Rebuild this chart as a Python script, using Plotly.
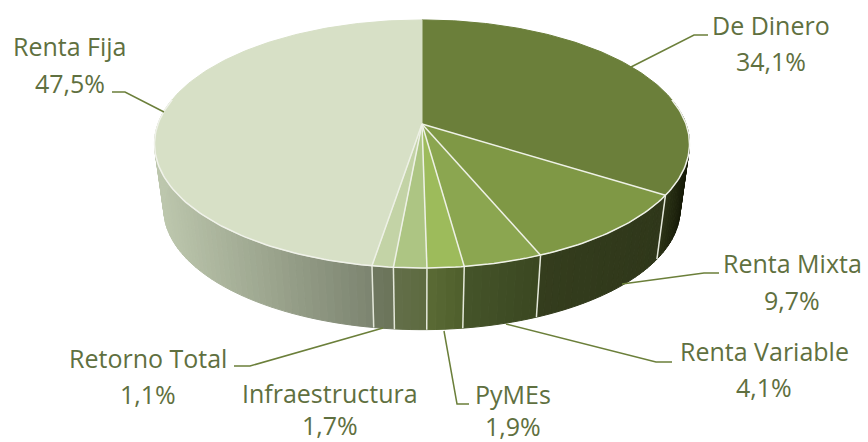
import math
import plotly.graph_objects as go

categories = ["De Dinero", "Renta Mixta", "Renta Variable", "PyMEs", "Infraestructura", "Retorno Total", "Renta Fija"]
values = [34.1, 9.7, 4.1, 1.9, 1.7, 1.1, 47.5]

top_colors = ["#6b7f3a", "#7f9845", "#8ba650", "#9dbb5b", "#adc583", "#c3d3a6", "#d7e0c6"]
side_left = ["#2b3316", "#343d1d", "#45542a", "#5a6a35", "#636f49", "#6f7860", "#b8c2a9"]
side_right = ["#252c12", "#2f371a", "#3a4720", "#4f5f2c", "#5d6a40", "#6b7459", "#7c8470"]

label_pos = {
    "De Dinero": (771, 25, 61), "Renta Mixta": (792, 263, 300), "Renta Variable": (764, 351, 387),
    "PyMEs": (513, 394, 426), "Infraestructura": (330, 393, 425), "Retorno Total": (148, 358, 394),
    "Renta Fija": (70, 46, 83),
}
leaders = {
    "De Dinero": [(708, 35), (694, 35), (631, 67)],
    "Renta Mixta": [(719, 273), (704, 273), (622, 284)],
    "Renta Variable": [(672, 362), (656, 362), (506, 324)],
    "PyMEs": [(469, 404), (457, 404), (444, 331)],
    "Retorno Total": [(234, 366), (250, 366), (383, 328)],
    "Renta Fija": [(112, 92), (125, 92), (164, 112)],
}

CX, CY, R, Q, K = 422, 124, 264, 120.8, 0.161
CY2, R2, Q2 = 190, R * 0.965, Q * 0.97
FONT = "Open Sans, sans-serif"
TEXT = "#5f7040"
LEADER = "#6b7f3a"


def top(a):
    u, v = math.sin(a), -math.cos(a)
    w = 1 - K * v
    return CX + R * u / w, CY + Q * v / w


def bottom(a):
    u, v = math.sin(a), -math.cos(a)
    w = 1 - K * v
    return CX + R2 * u / w, CY2 + Q2 * v / w


def mix(c1, c2, t):
    a = [int(c1[i:i + 2], 16) for i in (1, 3, 5)]
    b = [int(c2[i:i + 2], 16) for i in (1, 3, 5)]
    return "rgb(%d,%d,%d)" % tuple(round(p + (q - p) * t) for p, q in zip(a, b))


def poly(fig, pts, fill=None, line=None, width=1):
    xs = [p[0] for p in pts]
    ys = [p[1] for p in pts]
    fig.add_trace(go.Scatter(
        x=xs, y=ys, mode="lines", fill="toself" if fill else "none", fillcolor=fill,
        line=dict(color=line or fill, width=width), hoverinfo="skip", showlegend=False))


fig = go.Figure()
total = sum(values)
bounds = [0]
for val in values:
    bounds.append(bounds[-1] + val / total * 2 * math.pi)

# side wall
for i in range(len(values)):
    a0, a1 = bounds[i], bounds[i + 1]
    lo, hi = max(a0, math.radians(78)), min(a1, math.radians(282))
    if hi <= lo:
        continue
    n = max(1, int((hi - lo) / math.radians(1.5)))
    xl, xr = top(hi)[0], top(lo)[0]
    for j in range(n):
        s, e = lo + (hi - lo) * j / n, lo + (hi - lo) * (j + 1) / n
        xm = (top(s)[0] + top(e)[0]) / 2
        color = mix(side_left[i], side_right[i], (xm - xl) / max(xr - xl, 1))
        poly(fig, [top(s), top(e), bottom(e), bottom(s), top(s)], fill=color)

# slice separators on the side
for b in bounds[1:-1]:
    if math.radians(78) < b < math.radians(282):
        poly(fig, [top(b), bottom(b)], line="#e4e8da", width=1.5)

# top face
for i in range(len(values)):
    a0, a1 = bounds[i], bounds[i + 1]
    n = max(2, int((a1 - a0) / math.radians(1)))
    pts = [(CX, CY)] + [top(a0 + (a1 - a0) * j / n) for j in range(n + 1)] + [(CX, CY)]
    poly(fig, pts, fill=top_colors[i])

# radial separators
for b in bounds[1:-1]:
    poly(fig, [(CX, CY), top(b)], line="#eef1e6", width=1.5)

# white front rim
n = 200
rim = [top(math.radians(78) + math.radians(204) * j / n) for j in range(n + 1)]
poly(fig, rim, line="#f0f2ea", width=1.5)

# leader lines
for name, pts in leaders.items():
    poly(fig, pts, line=LEADER, width=1.5)

# labels
for name, val in zip(categories, values):
    x, y1, y2 = label_pos[name]
    pct = f"{val:.1f}".replace(".", ",") + "%"
    for txt, y in ((name, y1), (pct, y2)):
        fig.add_annotation(x=x, y=y, text=txt, showarrow=False, xanchor="center", yanchor="middle",
                           font=dict(family=FONT, size=25, color=TEXT))

fig.update_layout(
    width=868, height=442, margin=dict(l=0, r=0, t=0, b=0),
    paper_bgcolor="white", plot_bgcolor="white", showlegend=False,
    xaxis=dict(range=[0, 868], visible=False, fixedrange=True),
    yaxis=dict(range=[442, 0], visible=False, fixedrange=True),
)
fig.write_html("out.html", config=dict(displayModeBar=False),
               post_script="document.body.style.margin='0';document.documentElement.style.overflow='hidden';")
